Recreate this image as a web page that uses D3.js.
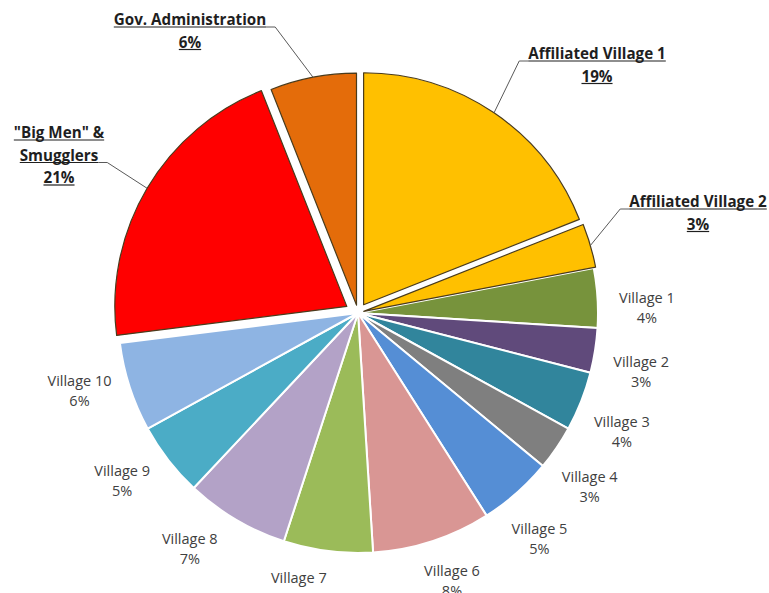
<!DOCTYPE html>
<html><head><meta charset="utf-8">
<script src="https://cdn.jsdelivr.net/npm/d3@7"></script>
<style>html,body{margin:0;padding:0;background:#fff;} svg{display:block;}</style>
</head><body>
<script>
// Shares of the total, in slice order (clockwise from 12 o'clock)
const categories = ["Affiliated Village 1", "Affiliated Village 2", "Village 1", "Village 2", "Village 3",
  "Village 4", "Village 5", "Village 6", "Village 7", "Village 8", "Village 9", "Village 10",
  "\"Big Men\" & Smugglers", "Gov. Administration"];
const shares = [19, 3, 4, 3, 4, 3, 5, 8, 6, 7, 5, 6, 21, 6];
const sliceColors = ["#FFC000", "#FFC000", "#77933C", "#604A7B", "#31859C", "#7F7F7F", "#558ED5",
  "#D99694", "#9BBB59", "#B3A2C7", "#4BACC6", "#8EB4E3", "#FF0000", "#E46C0A"];

const W = 769, H = 593, cx = 358, cy = 313, R = 240;
const FONT = "'Open Sans', Lato, 'DejaVu Sans', sans-serif";

// Highlighted slices: pulled out of the pie, outlined and given bold callouts
const callouts = {
  "Affiliated Village 1": {pull: 10, r: 232, lines: ["Affiliated Village 1"], x: 597, y: 53, side: "left", leaderLine: 0},
  "Affiliated Village 2": {pull: 6, r: 236, lines: ["Affiliated Village 2"], x: 698, y: 201, side: "left", leaderLine: 0},
  "\"Big Men\" & Smugglers": {pull: 13, r: 232, lines: ["\"Big Men\" &", "Smugglers"], x: 59, y: 132, side: "right", leaderLine: 1},
  "Gov. Administration": {pull: 8, r: 232, lines: ["Gov. Administration"], x: 190, y: 19, side: "right", leaderLine: 0}
};
// Plain village labels sit on a ring just outside the pie
const labelRing = 289, labelShift = 2.5 * Math.PI / 180;
const labelTweaks = {"Village 6": {r: 283, da: -3.9}, "Village 7": {r: 280, da: 2.5}, "Village 8": {r: 289, da: 2.5}};

const svg = d3.select("body").append("svg").attr("width", W).attr("height", H)
  .style("background", "#fff");

const data = categories.map((name, i) => ({name, value: shares[i], color: sliceColors[i], pct: shares[i] + "%"}));
const arcs = d3.pie().sort(null).value(d => d.value)(data);

arcs.forEach(a => {
  const co = callouts[a.data.name];
  a.mid = (a.startAngle + a.endAngle) / 2;
  a.pull = co ? co.pull : 0;
  a.r = co ? co.r : R;
  a.ox = cx + a.pull * Math.sin(a.mid);
  a.oy = cy - a.pull * Math.cos(a.mid);
  a.co = co;
});

const slices = svg.append("g");
// ordinary slices first, outlined ones on top
[...arcs.filter(a => !a.co), ...arcs.filter(a => a.co)].forEach(a => {
  slices.append("path")
    .attr("transform", `translate(${a.ox},${a.oy})`)
    .attr("d", d3.arc().innerRadius(0).outerRadius(a.r)(a))
    .attr("fill", a.data.color)
    .attr("stroke", a.co ? "#4a3b1c" : "#ffffff")
    .attr("stroke-width", a.co ? 1.2 : 2)
    .attr("stroke-linejoin", "round");
});

// Village labels
const vlab = svg.append("g").attr("font-family", FONT).attr("font-size", 14.5)
  .attr("fill", "#404040").attr("text-anchor", "middle");
arcs.filter(a => !a.co).forEach(a => {
  const tw = labelTweaks[a.data.name] || {r: labelRing, da: 0};
  const ang = a.mid + labelShift + tw.da * Math.PI / 180;
  const x = cx + tw.r * Math.sin(ang), y = cy - tw.r * Math.cos(ang);
  const t = vlab.append("text").attr("dominant-baseline", "central");
  t.append("tspan").attr("x", x).attr("y", y - 10).text(a.data.name);
  t.append("tspan").attr("x", x).attr("y", y + 10).text(a.data.pct);
});

// Bold underlined callouts with leader lines
const clab = svg.append("g").attr("font-family", FONT).attr("font-size", 15.2)
  .attr("font-weight", "bold").attr("fill", "#1f1f1f").attr("text-anchor", "middle");
const lineGap = 22.5;
arcs.filter(a => a.co).forEach(a => {
  const co = a.co;
  const rows = [...co.lines, a.data.pct];
  let edge = null;
  rows.forEach((row, i) => {
    const y = co.y + i * lineGap;
    const t = clab.append("text").attr("x", co.x).attr("y", y)
      .attr("dominant-baseline", "central").text(row);
    const w = t.node().getComputedTextLength();
    const uy = y + 8;
    clab.append("line").attr("x1", co.x - w / 2).attr("x2", co.x + w / 2)
      .attr("y1", uy).attr("y2", uy).attr("stroke", "#1f1f1f").attr("stroke-width", 1.2);
    if (i === co.leaderLine) {
      edge = co.side === "left" ? [co.x - w / 2, uy] : [co.x + w / 2, uy];
    }
  });
  const elbow = [edge[0] + (co.side === "left" ? -9 : 9), edge[1]];
  const tip = [a.ox + a.r * Math.sin(a.mid), a.oy - a.r * Math.cos(a.mid)];
  svg.append("path")
    .attr("d", d3.line()([edge, elbow, tip]))
    .attr("fill", "none").attr("stroke", "#595959").attr("stroke-width", 1);
});
</script>
</body></html>
